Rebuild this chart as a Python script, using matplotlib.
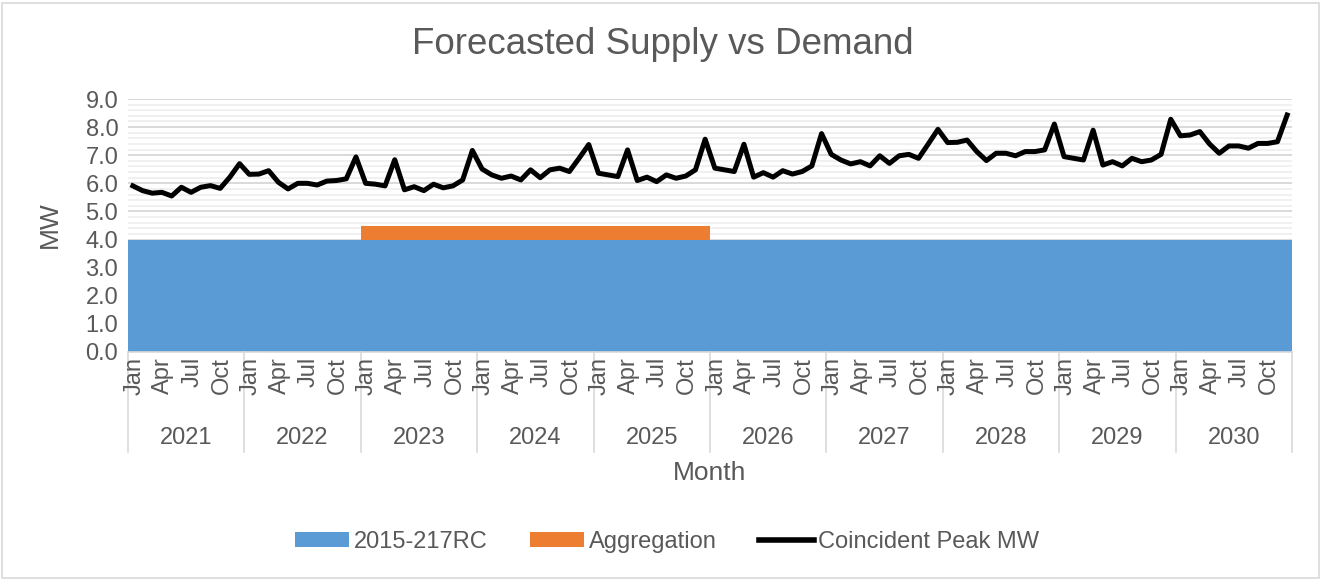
import matplotlib
matplotlib.use("Agg")
import matplotlib.pyplot as plt
from matplotlib.lines import Line2D
from matplotlib.patches import Patch, Rectangle
import numpy as np

plt.rcParams['font.family'] = ['Liberation Sans', 'DejaVu Sans']

# ---------------- data ----------------
years = [2021, 2022, 2023, 2024, 2025, 2026, 2027, 2028, 2029, 2030]
month_names = ['Jan', 'Feb', 'Mar', 'Apr', 'May', 'Jun',
               'Jul', 'Aug', 'Sep', 'Oct', 'Nov', 'Dec']
shown_months = ['Jan', 'Apr', 'Jul', 'Oct']

peak_2021 = [5.91, 5.74, 5.65, 5.68, 5.55, 5.86, 5.68, 5.86, 5.92, 5.82, 6.22, 6.70]
peak_2022 = [6.32, 6.33, 6.45, 6.04, 5.80, 6.00, 6.00, 5.94, 6.08, 6.10, 6.16, 6.94]
peak_2023 = [6.00, 5.97, 5.91, 6.84, 5.77, 5.88, 5.74, 5.97, 5.84, 5.91, 6.12, 7.17]
peak_2024 = [6.51, 6.30, 6.18, 6.26, 6.12, 6.48, 6.20, 6.48, 6.54, 6.42, 6.89, 7.38]
peak_2025 = [6.36, 6.30, 6.24, 7.19, 6.10, 6.22, 6.06, 6.30, 6.18, 6.26, 6.48, 7.57]
peak_2026 = [6.54, 6.48, 6.42, 7.39, 6.22, 6.38, 6.22, 6.45, 6.33, 6.42, 6.62, 7.77]
peak_2027 = [7.03, 6.83, 6.69, 6.77, 6.62, 6.98, 6.71, 6.98, 7.03, 6.89, 7.40, 7.92]
peak_2028 = [7.45, 7.46, 7.54, 7.13, 6.81, 7.07, 7.07, 6.98, 7.13, 7.13, 7.19, 8.11]
peak_2029 = [6.95, 6.89, 6.83, 7.89, 6.65, 6.77, 6.62, 6.89, 6.77, 6.83, 7.03, 8.28]
peak_2030 = [7.69, 7.72, 7.84, 7.40, 7.07, 7.33, 7.33, 7.25, 7.42, 7.42, 7.48, 8.43]
peak = (peak_2021 + peak_2022 + peak_2023 + peak_2024 + peak_2025 +
        peak_2026 + peak_2027 + peak_2028 + peak_2029 + peak_2030)

rc_year = [4.0, 4.0, 4.0, 4.0, 4.0, 4.0, 4.0, 4.0, 4.0, 4.0, 4.0, 4.0]
rc_supply = rc_year * len(years)

agg_off = [0, 0, 0, 0, 0, 0, 0, 0, 0, 0, 0, 0]
agg_on = [0.5, 0.5, 0.5, 0.5, 0.5, 0.5, 0.5, 0.5, 0.5, 0.5, 0.5, 0.5]
aggregation = (agg_off + agg_off + agg_on + agg_on + agg_on +
               agg_off + agg_off + agg_off + agg_off + agg_off)

# ---------------- figure ----------------
W, H = 1322, 580
fig = plt.figure(figsize=(W / 100, H / 100), dpi=100)
L, R, T, B = 128, 1292, 99, 352
ax = fig.add_axes([L / W, 1 - B / H, (R - L) / W, (B - T) / H])

TXT = '#595959'
BLUE = '#5B9BD5'
ORANGE = '#ED7D31'

n = len(peak)
x = np.arange(n)
rc_arr = np.array(rc_supply, dtype=float)
agg_arr = np.array(aggregation, dtype=float)

# stacked full-width columns (gap 0) drawn as stepped fills over category edges
edges = np.arange(n + 1) - 0.5
rc_ext = np.append(rc_arr, rc_arr[-1])
agg_ext = np.append(agg_arr, agg_arr[-1])
ax.fill_between(edges, 0, rc_ext, step='post', color=BLUE, lw=0, zorder=2)
on = np.append(agg_arr > 0, False)
on_edges = on | np.roll(on, 1)
ax.fill_between(edges, rc_ext, rc_ext + np.where(on, agg_ext, np.roll(agg_ext, 1)),
                where=on_edges, step='post', color=ORANGE, lw=0, zorder=2)
ax.plot(x, peak, color='black', lw=3.6, zorder=3, solid_joinstyle='round')

ax.set_xlim(-0.5, n - 0.5)
ax.set_ylim(0, 9)
ax.set_yticks(np.arange(0, 9.01, 1.0))
ax.set_yticklabels([f'{v:.1f}' for v in np.arange(0, 9.01, 1.0)])
ax.set_yticks(np.arange(0, 9.01, 0.2), minor=True)
ax.grid(which='major', axis='y', color='#d9d9d9', lw=1.4, zorder=0)
ax.grid(which='minor', axis='y', color='#f0f0f0', lw=1.4, zorder=0)
ax.set_axisbelow(True)
ax.set_xticks([])
ax.tick_params(axis='y', which='both', length=0, labelsize=17, labelcolor=TXT, pad=7)
for s in ['top', 'right', 'left']:
    ax.spines[s].set_visible(False)
ax.spines['bottom'].set_color('#d9d9d9')
ax.spines['bottom'].set_linewidth(1.2)

xt = ax.get_xaxis_transform()
for yi, yr in enumerate(years):
    for mi, m in enumerate(month_names):
        if m in shown_months:
            ax.text(yi * 12 + mi + 0.15, -0.02, m, rotation=90, ha='center', va='top',
                    transform=xt, fontsize=17, color=TXT, clip_on=False)
    ax.text(yi * 12 + 5.5, -0.34, str(yr), ha='center', va='center',
            transform=xt, fontsize=17, color=TXT, clip_on=False)
for k in range(len(years) + 1):
    ax.add_line(Line2D([k * 12 - 0.5, k * 12 - 0.5], [0, -0.395], transform=xt,
                       color='#d9d9d9', lw=1.2, clip_on=False))

fig.text((L + R) / 2 / W, 1 - 473 / H, 'Month', ha='center', va='center',
         fontsize=19, color=TXT)
fig.text(50 / W, 1 - 225 / H, 'MW', ha='center', va='center', rotation=90,
         fontsize=19, color=TXT)
fig.text(663 / W, 1 - 45 / H, 'Forecasted Supply vs Demand', ha='center', va='center',
         fontsize=26.5, color=TXT)

handles = [Patch(facecolor=BLUE, edgecolor='none', label='2015-217RC'),
           Patch(facecolor=ORANGE, edgecolor='none', label='Aggregation'),
           Line2D([0], [0], color='black', lw=4, label='Coincident Peak MW')]
leg = fig.legend(handles=handles, loc='center', bbox_to_anchor=(667 / W, 1 - 542 / H),
                 ncol=3, frameon=False, fontsize=17, handlelength=2.3,
                 handleheight=0.6, handletextpad=0.2, columnspacing=1.8)
for t in leg.get_texts():
    t.set_color(TXT)

fig.patches.append(Rectangle((2 / W, 2 / H), 1 - 5 / W, 1 - 5 / H, transform=fig.transFigure,
                             fill=False, edgecolor='#d9d9d9', lw=1.2))

fig.savefig('out.png', dpi=100)
